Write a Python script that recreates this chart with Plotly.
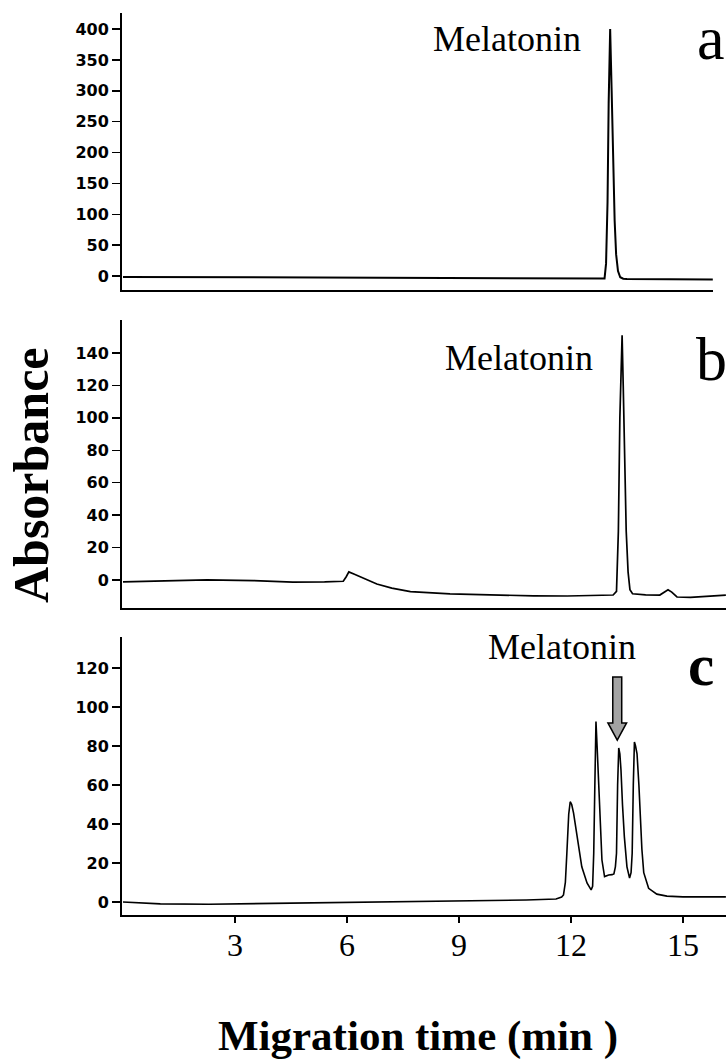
import plotly.graph_objects as go

W, H = 726, 1063

# ---------------- data ----------------
time_a = [0.0, 2.0, 4.0, 6.0, 8.0, 10.0, 12.0, 12.85, 12.90, 12.94, 12.98, 13.01, 13.05,
          13.09, 13.13, 13.17, 13.21, 13.26, 13.32, 13.40, 13.5, 14.5, 15.8]
abs_a = [-1.5, -2.0, -2.5, -3.0, -3.5, -4.0, -4.5, -4.8, -4.0, 20, 120, 280, 400,
         300, 180, 90, 35, 8, -2, -4.5, -4.8, -5.2, -5.5]

time_b = [0.0, 1.0, 2.25, 3.5, 4.55, 5.4, 5.9, 5.98, 6.05, 6.2, 6.5, 6.8, 7.2, 7.7, 8.76,
          10.0, 11.0, 11.9, 12.5, 13.13, 13.22, 13.27, 13.31, 13.35, 13.37, 13.40, 13.44,
          13.48, 13.53, 13.58, 13.65, 14.0, 14.38, 14.5, 14.6, 14.7, 14.84, 15.2, 15.6, 16.15]
abs_b = [-1.2, -0.8, 0.0, -0.4, -1.3, -1.2, -0.8, 2, 5, 3.5, 0.5, -2.5, -5, -7.2, -8.6,
         -9.3, -9.8, -9.9, -9.6, -9.3, -7, 30, 100, 145, 151, 120, 70,
         30, 5, -6, -8.5, -9.2, -9.3, -7.5, -6.0, -7.5, -10.5, -10.8, -10.2, -9.3]

time_c = [0.0, 1.0, 2.3, 3.5, 5.0, 7.7, 9.65, 10.8, 11.6, 11.75, 11.8, 11.85, 11.89, 11.94,
          11.98, 12.02, 12.07, 12.16, 12.29, 12.43, 12.54, 12.58, 12.61, 12.64, 12.67, 12.70,
          12.74, 12.79, 12.83, 12.90, 12.95, 13.01, 13.10, 13.15, 13.19, 13.22, 13.25, 13.28,
          13.31, 13.34, 13.38, 13.43, 13.50, 13.57, 13.61, 13.64, 13.67, 13.70, 13.73, 13.77,
          13.82, 13.86, 13.90, 13.95, 14.08, 14.3, 14.57, 15.0, 15.46, 16.15]
abs_c = [0.0, -1.0, -1.2, -0.9, -0.3, 0.2, 0.5, 1.0, 1.5, 2.5, 3.6, 10, 25, 45,
         51.4, 50, 45.6, 33.5, 18, 9.7, 6.2, 8, 25, 60, 92.5, 80,
         59, 38, 21.5, 13, 13.5, 13.8, 14, 14.4, 18, 25, 60, 79,
         76, 67.7, 50, 33.5, 18, 12.3, 15, 25, 60, 82, 80, 76,
         60, 42, 27, 15, 7, 4, 3, 2.6, 2.5, 2.6]

ticks_a = [0, 50, 100, 150, 200, 250, 300, 350, 400]
ticks_b = [0, 20, 40, 60, 80, 100, 120, 140]
ticks_c = [0, 20, 40, 60, 80, 100, 120]
ticks_x = [3, 6, 9, 12, 15]

# ---------------- helpers ----------------
def fx(px):
    return px / W

def fy(px):
    return 1 - px / H

SERIF = "Liberation Serif, Times New Roman, serif"
SANS = "DejaVu Sans, sans-serif"
PX_PER_MIN = 37.33
X0 = 123.0

def xrange_for(left_px, right_px):
    return [(left_px - X0) / PX_PER_MIN, (right_px - X0) / PX_PER_MIN]

fig = go.Figure()
fig.add_trace(go.Scatter(x=time_a, y=abs_a, xaxis="x", yaxis="y", mode="lines",
                         line=dict(color="black", width=2.0)))
fig.add_trace(go.Scatter(x=time_b, y=abs_b, xaxis="x2", yaxis="y2", mode="lines",
                         line=dict(color="black", width=1.7)))
fig.add_trace(go.Scatter(x=time_c, y=abs_c, xaxis="x3", yaxis="y3", mode="lines",
                         line=dict(color="black", width=1.6)))

common_x = dict(showline=True, linewidth=2, linecolor="black", showgrid=False,
                zeroline=False, fixedrange=True)
common_y = dict(showline=True, linewidth=2, linecolor="black", showgrid=False,
                zeroline=False, ticks="outside", ticklen=8, tickwidth=1.5,
                tickcolor="black", fixedrange=True,
                tickfont=dict(family=SANS, size=16, color="black", weight="bold"))

left = 122
fig.update_layout(
    width=W, height=H, margin=dict(l=0, r=0, t=0, b=0),
    paper_bgcolor="white", plot_bgcolor="white", showlegend=False,
    xaxis=dict(domain=[fx(left), fx(713)], range=xrange_for(left, 713), anchor="y",
               showticklabels=False, ticks="", **common_x),
    yaxis=dict(domain=[fy(290), fy(13)], range=[-22.7, 426], anchor="x",
               tickvals=ticks_a, **common_y),
    xaxis2=dict(domain=[fx(left), 1.0], range=xrange_for(left, W), anchor="y2",
                showticklabels=False, ticks="", **common_x),
    yaxis2=dict(domain=[fy(608), fy(320)], range=[-17.3, 160.4], anchor="x2",
                tickvals=ticks_b, **common_y),
    xaxis3=dict(domain=[fx(left), 1.0], range=xrange_for(left, W), anchor="y3",
                tickvals=ticks_x, ticks="outside", ticklen=6, tickwidth=1.5,
                tickcolor="black", ticklabelstandoff=-5,
                tickfont=dict(family=SERIF, size=32, color="black"), **common_x),
    yaxis3=dict(domain=[fy(915), fy(637)], range=[-6.7, 135.9], anchor="x3",
                tickvals=ticks_c, **common_y),
)

# arrow pointing at melatonin peak in panel c
cx, tip, hb, top = 13.24, 83.0, 91.8, 115.4
sh, hh = 0.12, 0.25
path = (f"M {cx-sh},{top} L {cx+sh},{top} L {cx+sh},{hb} L {cx+hh},{hb} "
        f"L {cx},{tip} L {cx-hh},{hb} L {cx-sh},{hb} Z")
fig.add_shape(type="path", path=path, xref="x3", yref="y3",
              fillcolor="#a3a3a3", line=dict(color="black", width=1.5))

def ann(text, xpx, ypx, size, bold=False, angle=0):
    fig.add_annotation(text=text, x=fx(xpx), y=fy(ypx), xref="paper", yref="paper",
                       xanchor="center", yanchor="middle", showarrow=False,
                       textangle=angle, borderpad=0,
                       font=dict(family=SERIF, size=size, color="black",
                                 weight="bold" if bold else "normal"))

ann("Melatonin", 507, 39.5, 36)
ann("Melatonin", 519, 358.5, 36)
ann("Melatonin", 562, 646.5, 36)
ann("a", 711, 38, 62)
ann("b", 711, 359.5, 62)
ann("c", 701, 665.2, 59, bold=True)
ann("Absorbance", 31, 475, 50, bold=True, angle=-90)
ann("Migration time (min )", 418, 1036, 43, bold=True)

fig.write_html("out.html",
               config={"displayModeBar": False, "staticPlot": True},
               post_script="document.body.style.margin='0';document.body.style.overflow='hidden';")
